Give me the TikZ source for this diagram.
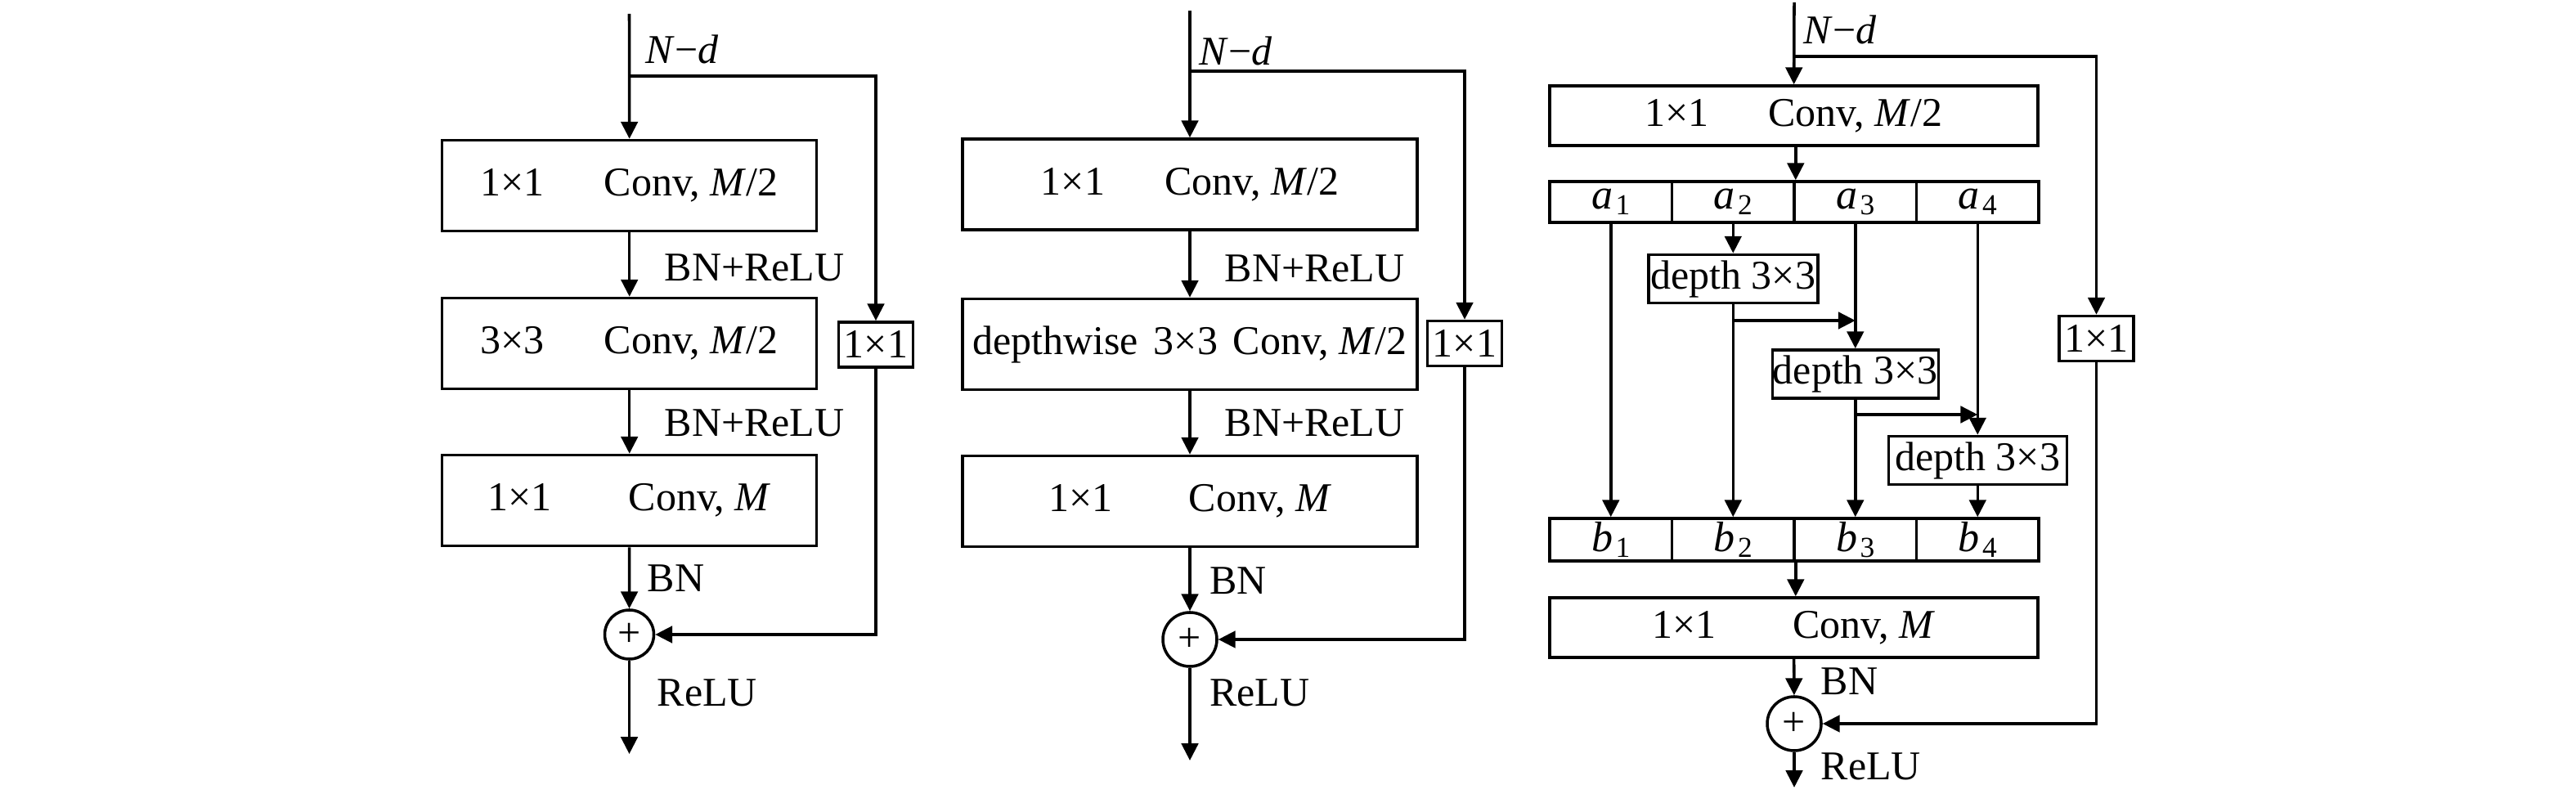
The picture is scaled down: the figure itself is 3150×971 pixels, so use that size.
\documentclass[tikz,border=0pt]{standalone}
\usepackage{fontspec}
\setmainfont{Liberation Serif}
\usetikzlibrary{arrows.meta,calc}
\newcommand{\oxo}{{\fontsize{12}{14}\selectfont 1×1}}
\newcommand{\txx}{{\fontsize{12}{14}\selectfont 3×3}}
\newcommand{\subi}[1]{\hspace{0.8pt}\raisebox{-1.8pt}{\fontsize{8.5}{9}\selectfont #1}}
\begin{document}
\begin{tikzpicture}[x=0.24pt,y=-0.24pt,line width=0.85pt,
  >={Triangle[length=5pt,width=4.9pt]},
  box/.style={draw,inner sep=0pt,minimum height=26.64pt,font=\fontsize{12}{14}\selectfont},
  bigbox/.style={draw,inner sep=0pt,minimum width=143.28pt,minimum height=17.52pt,font=\fontsize{12}{14}\selectfont},
  cell/.style={draw,inner sep=0pt,minimum width=35.88pt,font=\fontsize{12.5}{14}\selectfont},
  dbox/.style={draw,inner sep=0pt,minimum height=14.2pt,font=\fontsize{12}{14}\selectfont},
  small/.style={draw,inner sep=0pt,minimum width=21.84pt,minimum height=13.2pt},
  sum/.style={draw,circle,inner sep=0pt,font=\fontsize{12}{14}\selectfont},
  lbl/.style={inner sep=0pt,anchor=west,font=\fontsize{12}{14}\selectfont}]
\useasboundingbox (0,0) rectangle (3150,971);

% ---------------- Panel 1 ----------------
\node[box,minimum width=109.92pt] (p1c1) at (769.7,227) {\oxo\hspace{17.5pt}Conv, \textit{M}/2};
\node[box,minimum width=109.92pt] (p1c2) at (769.7,420) {\txx\hspace{17.5pt}Conv, \textit{M}/2};
\node[box,minimum width=109.92pt] (p1c3) at (769.7,612) {\oxo\hspace{22.5pt}Conv, \textit{M}\hspace{4.8pt}};
\node[sum,minimum size=14.4pt] (p1s) at (769.5,776) {+};
\node[small] (p1sc) at (1071,421.5) {\oxo};
\coordinate (p1in) at (769.5,17);
\coordinate (p1br) at (769.5,93);
\coordinate (p1rt) at (1071,93);
\coordinate (p1out) at (769.5,922);
\draw[->] (p1in) -- (p1c1);
\draw[->] (p1br) -- (p1rt) -- (p1sc);
\draw[->] (p1c1) -- (p1c2);
\draw[->] (p1c2) -- (p1c3);
\draw[->] (p1c3) -- (p1s);
\draw[->] (p1sc) |- (p1s);
\draw[->] (p1s) -- (p1out);
\node[lbl] (p1nd) at (788,60) {\textit{N}−\textit{d}};
\node[lbl] (p1l1) at (811,327) {BN+ReLU};
\node[lbl] (p1l2) at (811,517) {BN+ReLU};
\node[lbl] (p1l3) at (790,707) {BN};
\node[lbl] (p1l4) at (802,847) {ReLU};

% ---------------- Panel 2 ----------------
\node[box,minimum width=133.44pt] (p2c1) at (1455,225.5) {\oxo\hspace{17.5pt}Conv, \textit{M}/2\hspace{2.6pt}};
\node[box,minimum width=133.44pt] (p2c2) at (1455,421) {depthwise\hspace{4.5pt}3×3\hspace{4.5pt}Conv, \textit{M}/2};
\node[box,minimum width=133.44pt] (p2c3) at (1455,613) {\oxo\hspace{22.5pt}Conv, \textit{M}\hspace{7.2pt}};
\node[sum,minimum size=15.84pt] (p2s) at (1455,782) {+};
\node[small] (p2sc) at (1791,420) {\oxo};
\coordinate (p2in) at (1455,13);
\coordinate (p2br) at (1455,87);
\coordinate (p2rt) at (1791,87);
\coordinate (p2out) at (1455,930);
\draw[->] (p2in) -- (p2c1);
\draw[->] (p2br) -- (p2rt) -- (p2sc);
\draw[->] (p2c1) -- (p2c2);
\draw[->] (p2c2) -- (p2c3);
\draw[->] (p2c3) -- (p2s);
\draw[->] (p2sc) |- (p2s);
\draw[->] (p2s) -- (p2out);
\node[lbl] (p2nd) at (1465,62) {\textit{N}−\textit{d}};
\node[lbl] (p2l1) at (1496,328) {BN+ReLU};
\node[lbl] (p2l2) at (1496,517) {BN+ReLU};
\node[lbl] (p2l3) at (1477.5,710) {BN};
\node[lbl] (p2l4) at (1477.5,847) {ReLU};

% ---------------- Panel 3 ----------------
\node[bigbox] (p3c1) at (2193.5,141.5) {\oxo\hspace{17.5pt}Conv, \textit{M}/2};
\node[cell,minimum height=12pt] (a1) at (1969.75,247) {\textit{a}\subi{1}};
\node[cell,minimum height=12pt] (a2) at (2119.25,247) {\textit{a}\subi{2}};
\node[cell,minimum height=12pt] (a3) at (2268.75,247) {\textit{a}\subi{3}};
\node[cell,minimum height=12pt] (a4) at (2418.25,247) {\textit{a}\subi{4}};
\node[dbox,minimum width=49.68pt] (d1) at (2119.25,341) {depth 3×3};
\node[dbox,minimum width=48.72pt] (d2) at (2268.75,457.5) {depth 3×3};
\node[dbox,minimum width=52.32pt] (d3) at (2418.25,563) {depth 3×3};
\node[cell,minimum height=12.48pt] (b1) at (1969.75,660) {\textit{b}\subi{1}};
\node[cell,minimum height=12.48pt] (b2) at (2119.25,660) {\textit{b}\subi{2}};
\node[cell,minimum height=12.48pt] (b3) at (2268.75,660) {\textit{b}\subi{3}};
\node[cell,minimum height=12.48pt] (b4) at (2418.25,660) {\textit{b}\subi{4}};
\node[bigbox] (p3c3) at (2193.5,767.5) {\oxo\hspace{22.5pt}Conv, \textit{M}};
\node[sum,minimum size=15.84pt] (p3s) at (2194,885) {+};
\node[small] (p3sc) at (2563.5,414) {\oxo};
\coordinate (p3in) at (2194,3);
\coordinate (p3br) at (2194,69);
\coordinate (p3rt) at (2563.5,69);
\coordinate (p3out) at (2194,963);
\coordinate (h1s) at (2119.25,392);
\coordinate (h1e) at (2268.75,392);
\coordinate (h2s) at (2268.75,507);
\coordinate (h2e) at (2418.25,507);
\draw[->] (p3in) -- (p3c1);
\draw[->] (p3br) -- (p3rt) -- (p3sc);
\draw[->] (p3c1.south -| a2.north east) -- (a2.north east);
\draw[->] (a1) -- (b1);
\draw[->] (a2) -- (d1);
\draw[->] (d1) -- (b2);
\draw[->] (a3) -- (d2);
\draw[->] (d2) -- (b3);
\draw[->] (a4) -- (d3);
\draw[->] (d3) -- (b4);
\draw[->] (h1s) -- (h1e);
\draw[->] (h2s) -- (h2e);
\draw[->] (b2.south east) -- (p3c3.north -| b2.south east);
\draw[->] (p3c3) -- (p3s);
\draw[->] (p3sc) |- (p3s);
\draw[->] (p3s) -- (p3out);
\node[lbl] (p3nd) at (2204,36) {\textit{N}−\textit{d}};
\node[lbl] (p3l3) at (2225,833) {BN};
\node[lbl] (p3l4) at (2225,937) {ReLU};
\end{tikzpicture}
\end{document}
